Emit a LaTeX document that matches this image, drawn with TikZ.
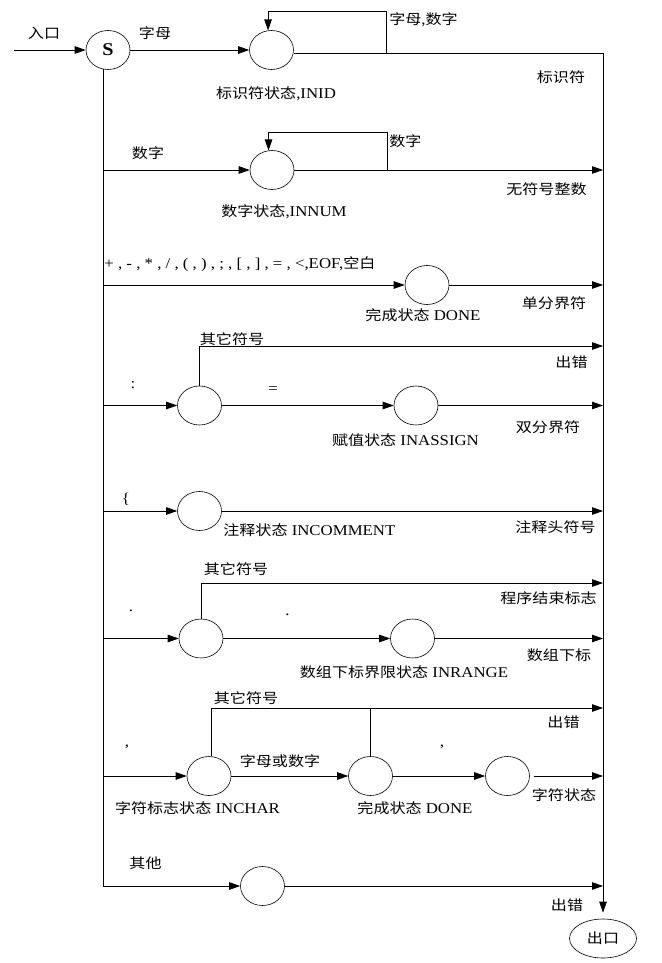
\documentclass[tikz,border=0pt]{standalone}
\usepackage{fontspec}
\setmainfont{Liberation Serif}[FakeStretch=1.12]
\newfontfamily\cjk{Noto Sans CJK SC}[Scale=0.93,FakeStretch=1.15]
\newcommand{\zh}[1]{{\cjk #1}}
\usetikzlibrary{arrows.meta,shapes.geometric}

\begin{document}
\begin{tikzpicture}[x=1pt,y=-1pt,line width=0.8pt,>={Triangle[length=11pt,width=7.5pt]},
  estado/.style={draw,ellipse,line width=0.6pt,minimum width=44pt,minimum height=39pt,inner sep=0pt},
  txt/.style={font=\fontsize{15}{17}\selectfont,inner sep=0pt}]
  \useasboundingbox (0,0) rectangle (661,963);
  % estados
  \node[estado] (s) at (108,50){\fontsize{18}{20}\selectfont\bfseries S};
  \node[estado] (inid) at (271.5,50){};
  \node[estado] (innum) at (272,170){};
  \node[estado] (done1) at (427,285){};
  \node[estado] (colon) at (199.5,405.5){};
  \node[estado] (inassign) at (416,405.5){};
  \node[estado] (incomment) at (199.5,511){};
  \node[estado] (dot) at (201,638.5){};
  \node[estado] (inrange) at (412.5,638.5){};
  \node[estado] (inchar) at (209,776){};
  \node[estado] (done2) at (370.5,776){};
  \node[estado] (charst) at (507.5,776){};
  \node[estado] (other) at (262.5,886){};
  \node[draw,ellipse,line width=0.6pt,minimum width=67pt,minimum height=39pt,inner sep=0pt,txt] (salida) at (603,938.5){\zh{出口}};
  % puntos auxiliares
  \coordinate (entrada) at (14,50);
  \coordinate (bus) at (603,0);
  \coordinate (t) at (s.-103);
  \coordinate (l1) at (386,11);
  \coordinate (l2) at (387,132);
  \coordinate (e1) at (0,346);
  \coordinate (e2) at (0,583);
  \coordinate (e3) at (0,708);
  % entrada y tronco
  \draw[->] (entrada) -- (s);
  \draw[->] (t) |- (other);
  \draw[->,shorten >=6pt] (inid.-8) -- (inid.-8 -| bus) -- (salida);
  % identificador
  \draw[->] (s) -- (inid);
  \draw[->] (inid.-8 -| l1) -- (l1) -| (inid.100);
  % numero
  \draw[->] (t |- innum) -- (innum);
  \draw[->] (innum -| l2) -- (l2) -| (innum.100);
  \draw[->] (innum) -- (innum -| bus);
  % delimitadores simples
  \draw[->] (t |- done1) -- (done1);
  \draw[->] (done1) -- (done1 -| bus);
  % asignacion
  \draw[->] (t |- colon) -- (colon);
  \draw[->] (colon) -- (inassign);
  \draw[->] (inassign) -- (inassign -| bus);
  \draw[line width=1.4pt] (colon.north) -- (colon.north |- e1);
  \draw[->] (colon.north |- e1) -- (e1 -| bus);
  % comentario
  \draw[->] (t |- incomment) -- (incomment);
  \draw[->] (incomment) -- (incomment -| bus);
  % rango
  \draw[->] (t |- dot) -- (dot);
  \draw[->] (dot) -- (inrange);
  \draw[->] (inrange) -- (inrange -| bus);
  \draw[->] (dot.north) |- (e2 -| bus);
  % caracter
  \draw[->] (t |- inchar) -- (inchar);
  \draw[->] (inchar) -- (done2);
  \draw[->] (done2) -- (charst);
  \draw[->,shorten <=4pt] (charst) -- (charst -| bus);
  \draw[->] (inchar.84) |- (e3 -| bus);
  \draw (done2.north) -- (done2.north |- e3);
  % otros
  \draw[->] (other) -- (other -| bus);
  % etiquetas
  \node[txt] (lentrada) at (44,33){\zh{入口}};
  \node[txt] (lletra) at (155,33){\zh{字母}};
  \node[txt,anchor=west] (lletdig) at (389,20){\zh{字母},\zh{数字}};
  \node[txt] (lid) at (561,77){\zh{标识符}};
  \node[txt] (linid) at (276,94){\zh{标识符状态},INID};
  \node[txt] (ldig) at (148,153){\zh{数字}};
  \node[txt,anchor=west] (ldig2) at (389,141){\zh{数字}};
  \node[txt] (lnum) at (546.5,189){\zh{无符号整数}};
  \node[txt] (linnum) at (284,212){\zh{数字状态},INNUM};
  \node[txt,anchor=west] (ldelim) at (104,264){+ , - , * , / , ( , ) , ; , [ , ] , = , <,EOF,\zh{空白}};
  \node[txt] (lsimple) at (554,303){\zh{单分界符}};
  \node[txt] (ldone) at (423,315){\zh{完成状态} DONE};
  \node[txt] (lotro1) at (232,339){\zh{其它符号}};
  \node[txt] (lerr1) at (571.5,362){\zh{出错}};
  \node[txt] (lcolon) at (133,385){:};
  \node[txt] (leq) at (273,390){=};
  \node[txt] (ldoble) at (548,427){\zh{双分界符}};
  \node[txt] (lassign) at (405.5,440){\zh{赋值状态} INASSIGN};
  \node[txt] (llave) at (126,499){\{};
  \node[txt,anchor=west] (lcomment) at (223,530){\zh{注释状态} INCOMMENT};
  \node[txt] (lcomhead) at (555.5,527){\zh{注释头符号}};
  \node[txt] (lotro2) at (236,569){\zh{其它符号}};
  \node[txt] (lfin) at (548.5,598){\zh{程序结束标志}};
  \node[txt] (lpunto1) at (131,611){.};
  \node[txt] (lpunto2) at (287.5,615){.};
  \node[txt] (lsub) at (559,655){\zh{数组下标}};
  \node[txt] (lrange) at (404,672){\zh{数组下标界限状态} INRANGE};
  \node[txt] (lotro3) at (246,698){\zh{其它符号}};
  \node[txt] (lerr2) at (563.5,722){\zh{出错}};
  \node[txt] (lcoma1) at (127,747){,};
  \node[txt] (lcoma2) at (442,747){,};
  \node[txt] (lletdig2) at (280,761){\zh{字母或数字}};
  \node[txt] (lcharst) at (564,795){\zh{字符状态}};
  \node[txt] (linchar) at (197.5,808){\zh{字符标志状态} INCHAR};
  \node[txt] (ldone2) at (415,808){\zh{完成状态} DONE};
  \node[txt] (lotros) at (145.5,863){\zh{其他}};
  \node[txt] (lerr3) at (567,905){\zh{出错}};
\end{tikzpicture}
\end{document}
